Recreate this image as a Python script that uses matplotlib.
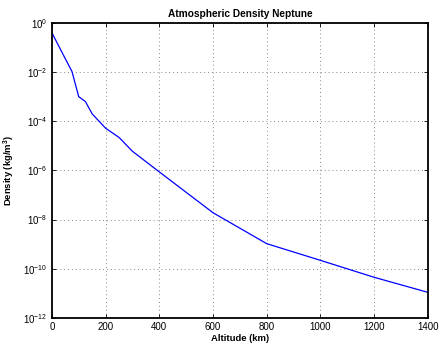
import math
import matplotlib
matplotlib.use("Agg")
import matplotlib.pyplot as plt
from matplotlib.ticker import FixedLocator, FuncFormatter, NullLocator

altitude_km = [0, 50, 75, 100, 125, 150, 200, 250, 300, 400, 600, 800, 1000, 1200, 1400]
density = [4.0e-1, 3.5e-2, 1.05e-2, 1.0e-3, 6.3e-4, 2.0e-4, 5.2e-5, 2.2e-5, 6.0e-6,
           8.7e-7, 1.9e-8, 1.05e-9, 2.2e-10, 4.5e-11, 1.1e-11]
x_ticks = [0, 200, 400, 600, 800, 1000, 1200, 1400]
y_exponents = [0, -2, -4, -6, -8, -10, -12]

plt.rcParams['font.family'] = ['Liberation Sans', 'DejaVu Sans']
plt.rcParams['mathtext.fontset'] = 'custom'
plt.rcParams['mathtext.rm'] = 'Liberation Sans'
plt.rcParams['mathtext.it'] = 'Liberation Sans:italic'
plt.rcParams['mathtext.bf'] = 'Liberation Sans:bold'

fig = plt.figure(figsize=(4.43, 3.46), dpi=100)
ax = fig.add_axes([0.117, 0.081, 0.849, 0.853])
ax.plot(altitude_km, density, color='#0000ff', linewidth=0.9)
ax.set_yscale('log')
ax.set_xlim(0, 1400)
ax.set_ylim(1e-12, 1e0)
ax.xaxis.set_major_locator(FixedLocator(x_ticks))
ax.yaxis.set_major_locator(FixedLocator([10.0 ** e for e in y_exponents]))
ax.yaxis.set_minor_locator(NullLocator())
ax.yaxis.set_major_formatter(FuncFormatter(lambda v, p: r'$10^{%d}$' % round(math.log10(v))))
ax.tick_params(direction='in', top=True, right=True, labelsize=7, length=3, width=0.6, pad=3)
ax.grid(True, linestyle=(0, (1, 3)), color='#888888', linewidth=0.7)
for s in ax.spines.values():
    s.set_linewidth(1.3)
ax.set_title('Atmospheric Density Neptune', fontsize=7.3, fontweight='bold', pad=4)
ax.set_xlabel('Altitude (km)', fontsize=6.8, fontweight='bold', labelpad=1)
ax.set_ylabel(r'Density (kg/m$^\mathbf{3}$)', fontsize=6.8, fontweight='bold')
ax.yaxis.set_label_coords(-0.092, 0.5)
fig.savefig('out.png', dpi=100)
